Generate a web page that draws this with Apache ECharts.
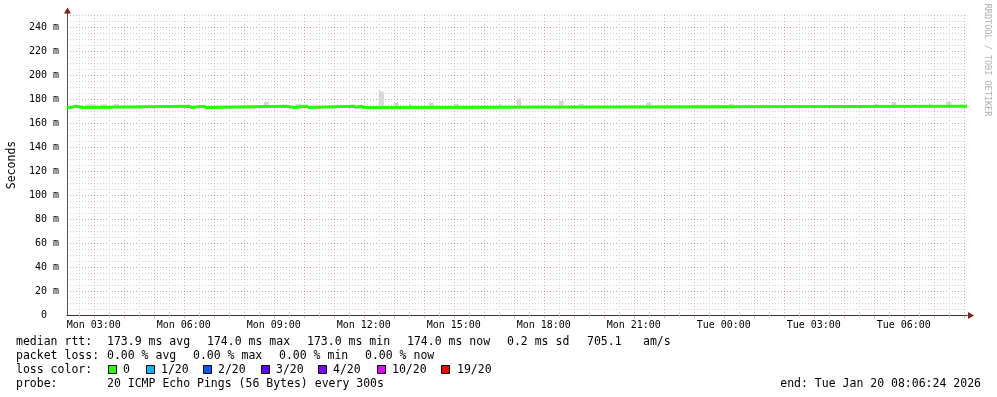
<!DOCTYPE html>
<html><head><meta charset="utf-8">
<script src="https://cdn.jsdelivr.net/npm/echarts@6/dist/echarts.min.js"></script>
<style>html,body{margin:0;padding:0;background:#fff}#c{width:997px;height:397px}</style>
</head><body><div id="c"></div>
<script>
// ---------- data ----------
const startTime = '2026-01-19 02:06:24';
const endTime = '2026-01-20 08:06:24';

// x tick labels (every 3 hours)
const xTickTimes = ['2026-01-19 03:00','2026-01-19 06:00','2026-01-19 09:00','2026-01-19 12:00','2026-01-19 15:00',
  '2026-01-19 18:00','2026-01-19 21:00','2026-01-20 00:00','2026-01-20 03:00','2026-01-20 06:00'];
const xTickLabels = ['Mon 03:00','Mon 06:00','Mon 09:00','Mon 12:00','Mon 15:00',
  'Mon 18:00','Mon 21:00','Tue 00:00','Tue 03:00','Tue 06:00'];

// median RTT (ms), step line: value holds from each time until the next
const medianTimes = [
  '2026-01-19 02:06:24','2026-01-19 02:15','2026-01-19 02:25','2026-01-19 02:40',
  '2026-01-19 06:10','2026-01-19 06:15','2026-01-19 06:40','2026-01-19 06:45',
  '2026-01-19 09:25','2026-01-19 09:40','2026-01-19 10:05','2026-01-19 10:10',
  '2026-01-19 11:40','2026-01-19 11:45','2026-01-19 11:55','2026-01-19 12:00',
  '2026-01-20 08:06:24'
];
const medianValues = [173,174,173,174, 173,174,173,174, 173,174,173,174, 173,174,173,174, 174];

// smoke (ping spread) spikes above the median
const smokeStart = ['2026-01-19 02:45','2026-01-19 03:15','2026-01-19 03:40','2026-01-19 08:40','2026-01-19 09:45',
  '2026-01-19 12:30','2026-01-19 12:35','2026-01-19 13:00','2026-01-19 13:30','2026-01-19 14:10','2026-01-19 15:00',
  '2026-01-19 16:30','2026-01-19 17:05','2026-01-19 17:10','2026-01-19 18:30','2026-01-19 19:10','2026-01-19 21:25',
  '2026-01-20 00:10','2026-01-20 05:00','2026-01-20 05:35','2026-01-20 06:50','2026-01-20 07:25'];
const smokeEnd = ['2026-01-19 03:05','2026-01-19 03:25','2026-01-19 03:50','2026-01-19 08:50','2026-01-19 09:55',
  '2026-01-19 12:35','2026-01-19 12:40','2026-01-19 13:10','2026-01-19 13:35','2026-01-19 14:20','2026-01-19 15:10',
  '2026-01-19 16:35','2026-01-19 17:10','2026-01-19 17:15','2026-01-19 18:40','2026-01-19 19:20','2026-01-19 21:35',
  '2026-01-20 00:20','2026-01-20 05:10','2026-01-20 05:45','2026-01-20 06:55','2026-01-20 07:35'];
const smokeHigh = [175.6,175.5,176,177.5,176, 187,186,177,176,177,176, 176,179,181,178.6,176,177, 176,176,177.5,176,178];
const smokeBase = 173.5;

const rttNames = ['avg','max','min','now'];
const rttValues = [173.9, 174.0, 173.0, 174.0];
const rttSd = 0.2;
const rttAmS = 705.1;
const lossValues = [0.00, 0.00, 0.00, 0.00];
const lossLabels = ['0','1/20','2/20','3/20','4/20','10/20','19/20'];
const lossColors = ['#26ff00','#00b8ff','#0059ff','#5e00ff','#7e00ff','#dd00ff','#ff0000'];
const probeText = '20 ICMP Echo Pings (56 Bytes) every 300s';
const endText = 'end: Tue Jan 20 08:06:24 2026';

// ---------- helpers ----------
function ts(s){
  const [d, tm] = s.split(' ');
  const [Y,M,D] = d.split('-').map(Number);
  const p = tm.split(':').map(Number);
  return new Date(Y, M-1, D, p[0], p[1], p[2]||0).getTime();
}
const tMin = ts(startTime), tMax = ts(endTime);
const MONO = '"DejaVu Sans Mono", monospace';

const lineData = medianTimes.map((t,i)=>[ts(t), medianValues[i]]);
const smokeData = smokeStart.map((s,i)=>[ts(s), ts(smokeEnd[i]), smokeHigh[i], smokeBase]);
const labelTimes = xTickTimes.map(ts);

// grid line positions on the hour / half hour inside the range
const HALF = 1800000, HOUR = 3600000;
const halfHours = [], hours = [];
for (let t = ts('2026-01-19 02:30'); t < tMax; t += HALF) {
  if ((t - ts('2026-01-19 00:00')) % HOUR === 0) hours.push(t); else halfHours.push(t);
}

const gray = '#cdcdcd';
const red = 'rgba(225,100,100,0.55)';

function xAxisDef(values, color, showLabels){
  return {
    type:'value', min:tMin, max:tMax, position:'bottom',
    axisLine:{show: showLabels, onZero:false, lineStyle:{color:'#333', width:1}},
    axisTick:{show: !showLabels, length:3, customValues: values, lineStyle:{color: color}},
    axisLabel:{show: showLabels, customValues: values, margin:5,
      fontFamily:MONO, fontSize:10, color:'#000',
      formatter: v => { const i = labelTimes.indexOf(v); return i >= 0 ? xTickLabels[i] : ''; }},
    splitLine:{show: !showLabels, lineStyle:{color:color, type:[1,2], width:1}}
  };
}

// ---------- graphic (legend text) ----------
const g = [];
function txt(x,y,text,opt){
  g.push(Object.assign({type:'text', x:x, y:y, silent:true,
    style:{text:text, fontFamily:MONO, fontSize:11.5, fill:'#000', verticalAlign:'middle', align:'left'}}, opt||{}));
}
const L1=342, L2=356, L3=370, L4=384;
txt(16,L1,'median rtt:');
const rttX=[107,207,307,407];
rttValues.forEach((v,i)=>txt(rttX[i],L1, v.toFixed(1)+' ms '+rttNames[i]));
txt(507,L1, rttSd.toFixed(1)+' ms sd');
txt(587,L1, rttAmS.toFixed(1));
txt(643,L1, 'am/s');
txt(16,L2,'packet loss:');
const lossX=[107,193,279,365];
lossValues.forEach((v,i)=>txt(lossX[i],L2, v.toFixed(2)+' % '+rttNames[i]));
txt(16,L3,'loss color:');
const boxX=[108,146,203,261,318,377,441];
const labX=[123,161,218,276,333,392,457];
lossLabels.forEach((l,i)=>{
  g.push({type:'rect', silent:true, shape:{x:boxX[i]+0.5, y:L3-4.5, width:8, height:8},
    style:{fill:lossColors[i], stroke:'#000', lineWidth:1}});
  txt(labX[i],L3,l);
});
txt(16,L4,'probe:');
txt(107,L4,probeText);
g.push({type:'text', x:981, y:L4, silent:true, style:{text:endText, fontFamily:MONO, fontSize:11.5, fill:'#000', verticalAlign:'middle', align:'right'}});
// vertical credit
g.push({type:'text', x:987, y:60, rotation:-Math.PI/2, silent:true,
  style:{text:'RRDTOOL / TOBI OETIKER', fontFamily:MONO, fontSize:8.5, fill:'#b0b0b0', align:'center', verticalAlign:'middle'}});
// arrows
g.push({type:'line', silent:true, shape:{x1:67.5,y1:15,x2:67.5,y2:11}, style:{stroke:'#555',lineWidth:1}});
g.push({type:'polygon', silent:true, shape:{points:[[64,13.5],[67.5,7.5],[71,13.5]]}, style:{fill:'#8b1a1a'}});
g.push({type:'polygon', silent:true, shape:{points:[[968,312],[974,315.5],[968,319]]}, style:{fill:'#8b1a1a'}});

// ---------- chart ----------
const chart = echarts.init(document.getElementById('c'), null, {renderer:'canvas'});
chart.setOption({
  animation:false,
  backgroundColor:'#ffffff',
  grid:{left:67, right:30, top:15, bottom:82, containLabel:false, outerBoundsMode:'none'},
  xAxis:[ xAxisDef(halfHours, gray, false), xAxisDef(hours, red, false), xAxisDef(labelTimes, red, true) ],
  yAxis:[
    {type:'value', min:0, max:250, interval:5, position:'left',
      axisLine:{show:false}, axisTick:{show:false}, axisLabel:{show:false},
      splitLine:{show:true, lineStyle:{color:gray, type:[1,2]}}},
    {type:'value', min:0, max:250, interval:20, position:'left',
      name:'Seconds', nameLocation:'middle', nameGap:49,
      nameTextStyle:{fontFamily:MONO, fontSize:11.5, color:'#000'},
      axisLine:{show:true, lineStyle:{color:'#555'}}, axisTick:{show:false},
      axisLabel:{showMaxLabel:false, margin:8, fontFamily:MONO, fontSize:10, color:'#000',
        formatter: v => v===0 ? '0  ' : v+' m'},
      splitLine:{show:true, showMaxLine:false, showMinLine:false, lineStyle:{color:red, type:[1,2]}}}
  ],
  series:[
    {type:'custom', xAxisIndex:0, yAxisIndex:0, z:2, silent:true,
      encode:{x:[0,1], y:[2,3]},
      renderItem:(params, api)=>{
        const p0 = api.coord([api.value(0), api.value(3)]);
        const p1 = api.coord([api.value(1), api.value(2)]);
        return {type:'rect', shape:{x:p0[0], y:p1[1], width:p1[0]-p0[0], height:p0[1]-p1[1]},
          style:{fill:'#d6d6d6'}};
      },
      data: smokeData},
    {type:'line', xAxisIndex:0, yAxisIndex:0, z:3, step:'end', symbol:'none', silent:true,
      lineStyle:{color:'#26ff00', width:3}, data: lineData}
  ],
  graphic: g
});
</script>
</body></html>
